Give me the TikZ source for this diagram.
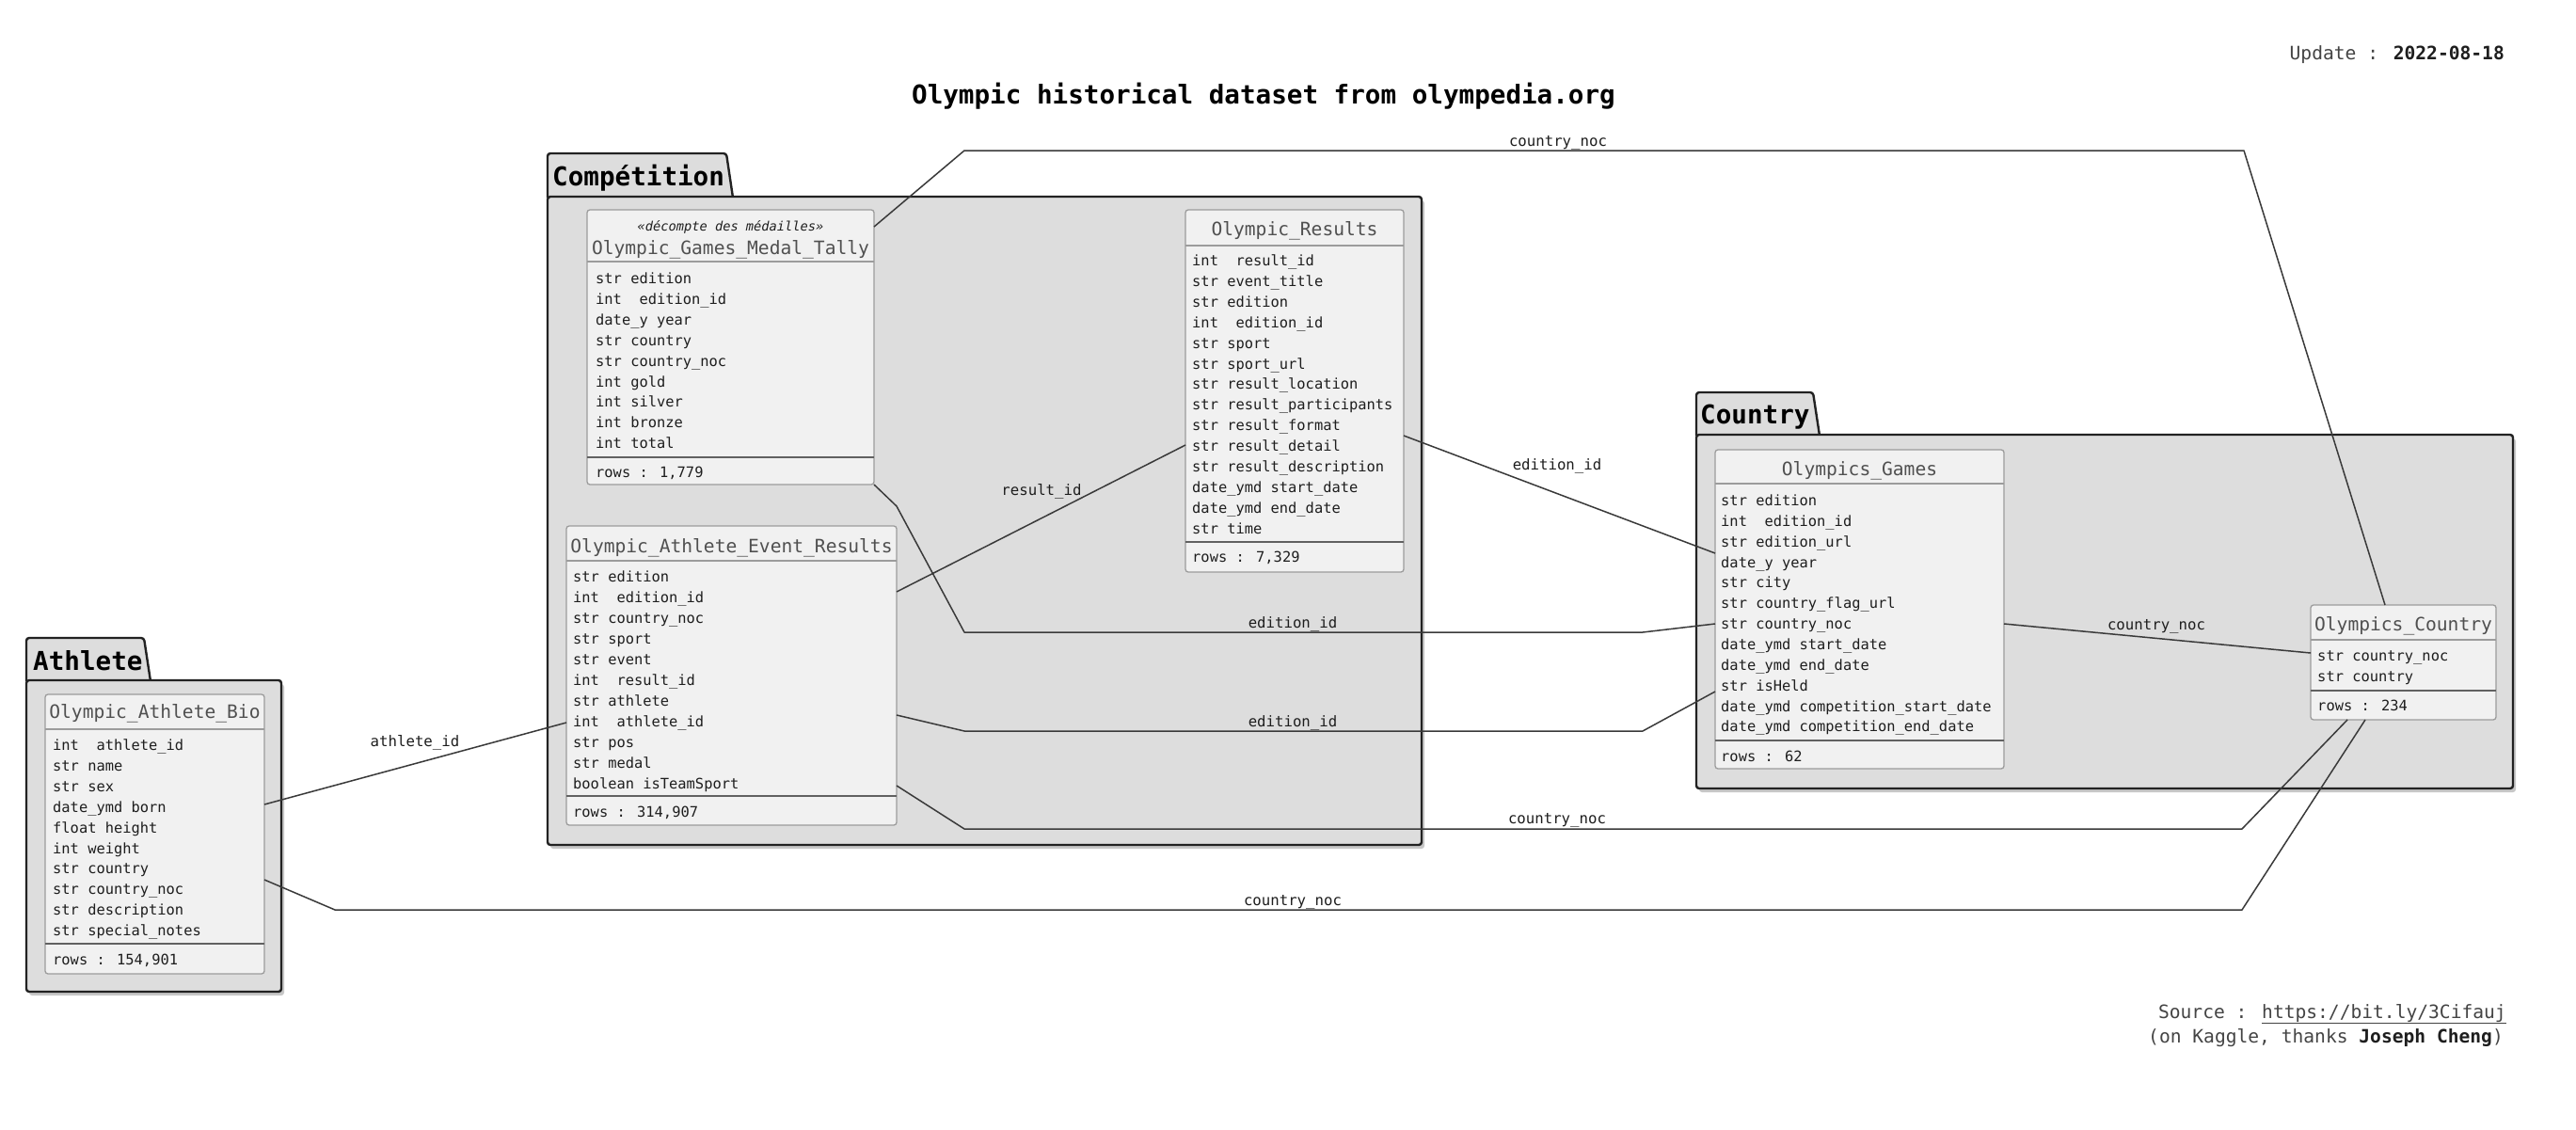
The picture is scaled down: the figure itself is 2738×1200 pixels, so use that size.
\documentclass[tikz,border=0pt]{standalone}
\usepackage{fontspec}
\setmainfont{DejaVu Sans Mono}
\definecolor{pkgfill}{HTML}{DDDDDD}
\definecolor{pkgline}{HTML}{222222}
\definecolor{boxfill}{HTML}{F1F1F1}
\definecolor{boxline}{HTML}{9C9C9C}
\definecolor{linkc}{HTML}{3A3A3A}
\definecolor{hdrc}{HTML}{505050}
\definecolor{txtc}{HTML}{1E1E1E}
\definecolor{infoc}{HTML}{444444}
\tikzset{
 pkg/.style={fill=pkgfill, draw=pkgline, line width=2.4pt, rounded corners=3pt},
 pkgshadow/.style={fill=black!22, rounded corners=3pt},
 ebox/.style={draw=boxline, fill=boxfill, line width=1.3pt, rounded corners=3pt, inner sep=0pt, outer sep=0pt, anchor=north west},
 hsep/.style={draw=boxline, line width=1.2pt},
 rsep/.style={draw=black!62, line width=2pt},
 rowt/.style={font=\fontsize{15.4}{18}\selectfont, text=txtc, inner sep=0pt, anchor=west, text height=11pt, text depth=0pt},
 hdrt/.style={font=\fontsize{19.6}{22}\selectfont, text=hdrc, inner sep=0pt, anchor=center, text height=14pt, text depth=0pt},
 stt/.style={font=\fontsize{13.7}{16}\selectfont\itshape, text=txtc, inner sep=0pt, anchor=center, text height=10pt, text depth=0pt},
 pkgt/.style={font=\fontsize{27.6}{30}\selectfont\bfseries, text=black, inner sep=0pt, anchor=west, text height=20pt, text depth=0pt},
 lnk/.style={draw=linkc, line width=1.5pt, line join=round},
 lbl/.style={font=\fontsize{15.7}{18}\selectfont, text=txtc, inner sep=0pt, anchor=center, text height=11pt, text depth=0pt},
 info/.style={font=\fontsize{19.6}{22}\selectfont, text=infoc, inner sep=0pt, text height=14pt, text depth=0pt},
}
\begin{document}
\begin{tikzpicture}[x=1pt,y=-1pt]
\useasboundingbox (0,0) rectangle (2738,1200);
\fill[white] (0,0) rectangle (2738,1200);

% ---------- texts ----------
\node[font=\fontsize{27.6}{30}\selectfont\bfseries, text=black, inner sep=0pt, text height=20pt, text depth=0pt] (title) at (1343,100) {Olympic historical dataset from olympedia.org};
\node[info, anchor=east] (upd) at (2662,56) {Update : {\color{txtc}\bfseries 2022-08-18}};
\node[info, anchor=east] (src1) at (2664,1075) {Source : \underline{https://bit.ly/3Cifauj}};
\node[info, anchor=east] (src2) at (2661,1101) {(on Kaggle, thanks {\color{txtc}\bfseries Joseph Cheng})};

% ---------- packages ----------
% Athlete
\fill[pkgshadow] (31,727) rectangle (302,1058);
\draw[pkg] (28,724) -- (28,678) -- (153,678) -- (160,724);
\draw[pkg] (28,723) rectangle (299,1054);
\node[pkgt] (pkgA) at (35,702) {Athlete};
% Competition
\fill[pkgshadow] (585,213) rectangle (1514,902);
\draw[pkg] (582,210) -- (582,163) -- (772,163) -- (779,210);
\draw[pkg] (582,209) rectangle (1511,898);
\node[pkgt] (pkgC) at (587,187) {Compétition};
% Country
\fill[pkgshadow] (1806,466) rectangle (2674,842);
\draw[pkg] (1803,463) -- (1803,417) -- (1927,417) -- (1934,463);
\draw[pkg] (1803,462) rectangle (2671,838);
\node[pkgt] (pkgK) at (1807,440) {Country};

% ---------- entity boxes ----------
\node[ebox, minimum width=233pt, minimum height=297pt] (bio) at (48,738) {};
\node[ebox, minimum width=305pt, minimum height=292pt] (mt) at (624,223) {};
\node[ebox, minimum width=232pt, minimum height=385pt] (res) at (1260,223) {};
\node[ebox, minimum width=351pt, minimum height=318pt] (aer) at (602,559) {};
\node[ebox, minimum width=307pt, minimum height=339pt] (games) at (1823,478) {};
\node[ebox, minimum width=197pt, minimum height=122pt] (ctry) at (2456,643) {};

% ---------- connectors ----------
\draw[lnk] ([yshift=-117pt]bio.north east) -- ([yshift=-209pt]aer.north west);
\node[lbl] (l1) at (441,788) {athlete\_id};
\draw[lnk] ([yshift=-197pt]bio.north east) -- (356,967) -- (2383,967) -- ([xshift=58pt]ctry.south west);
\node[lbl] (l2) at (1374,957) {country\_noc};
\draw[lnk] ([yshift=-70pt]aer.north east) -- ([yshift=-250pt]res.north west);
\node[lbl] (l3) at (1107,521) {result\_id};
\draw[lnk] (mt.south east) -- (953,538) -- (1025,672) -- (1746,672) -- ([yshift=-185pt]games.north west);
\node[lbl] (l4) at (1374,662) {edition\_id};
\draw[lnk] ([yshift=-201pt]aer.north east) -- (1025,777) -- (1746,777) -- ([yshift=-257pt]games.north west);
\node[lbl] (l5) at (1374,767) {edition\_id};
\draw[lnk] ([yshift=-276pt]aer.north east) -- (1025,881) -- (2383,881) -- ([xshift=39pt]ctry.south west);
\node[lbl] (l6) at (1655,870) {country\_noc};
\draw[lnk] ([yshift=-240pt]res.north east) -- ([yshift=-110pt]games.north west);
\node[lbl] (l7) at (1655,494) {edition\_id};
\draw[lnk] ([yshift=-185pt]games.north east) -- ([yshift=-51pt]ctry.north west);
\node[lbl] (l8) at (2292,664) {country\_noc};
\draw[lnk] ([yshift=-18pt]mt.north east) -- (1025,160) -- (2385,160) -- ([xshift=79pt]ctry.north west);
\node[lbl] (l9) at (1656,150) {country\_noc};

% ---------- entity contents ----------
% Olympic_Athlete_Bio
\draw[hsep] (48,775) -- (281,775);
\draw[rsep] (48,1003) -- (281,1003);
\node[hdrt] (bio-h) at (164.5,756) {Olympic\_Athlete\_Bio};
\foreach \t [count=\i from 0] in {int~~athlete\_id, str name, str sex, date\_ymd born, float height, int weight, str country, str country\_noc, str description, str special\_notes}
  \node[rowt] (bio-r\i) at (56,{792+\i*21.9}) {\t};
\node[rowt] (bio-n) at (56,1020) {rows : 154,901};

% Olympic_Games_Medal_Tally
\draw[hsep] (624,278) -- (929,278);
\draw[rsep] (624,486) -- (929,486);
\node[stt] (mt-s) at (776.5,240) {«décompte des médailles»};
\node[hdrt] (mt-h) at (776.5,263) {Olympic\_Games\_Medal\_Tally};
\foreach \t [count=\i from 0] in {str edition, int~~edition\_id, date\_y year, str country, str country\_noc, int gold, int silver, int bronze, int total}
  \node[rowt] (mt-r\i) at (633,{296+\i*21.9}) {\t};
\node[rowt] (mt-n) at (633,502) {rows : 1,779};

% Olympic_Results
\draw[hsep] (1260,261) -- (1492,261);
\draw[rsep] (1260,576) -- (1492,576);
\node[hdrt] (res-h) at (1376,243) {Olympic\_Results};
\foreach \t [count=\i from 0] in {int~~result\_id, str event\_title, str edition, int~~edition\_id, str sport, str sport\_url, str result\_location, str result\_participants, str result\_format, str result\_detail, str result\_description, date\_ymd start\_date, date\_ymd end\_date, str time}
  \node[rowt] (res-r\i) at (1267,{277+\i*21.9}) {\t};
\node[rowt] (res-n) at (1267,592) {rows : 7,329};

% Olympic_Athlete_Event_Results
\draw[hsep] (602,596) -- (953,596);
\draw[rsep] (602,846) -- (953,846);
\node[hdrt] (aer-h) at (777.5,580) {Olympic\_Athlete\_Event\_Results};
\foreach \t [count=\i from 0] in {str edition, int~~edition\_id, str country\_noc, str sport, str event, int~~result\_id, str athlete, int~~athlete\_id, str pos, str medal, boolean isTeamSport}
  \node[rowt] (aer-r\i) at (609,{613+\i*22}) {\t};
\node[rowt] (aer-n) at (609,863) {rows : 314,907};

% Olympics_Games
\draw[hsep] (1823,514) -- (2130,514);
\draw[rsep] (1823,787) -- (2130,787);
\node[hdrt] (games-h) at (1976.5,498) {Olympics\_Games};
\foreach \t [count=\i from 0] in {str edition, int~~edition\_id, str edition\_url, date\_y year, str city, str country\_flag\_url, str country\_noc, date\_ymd start\_date, date\_ymd end\_date, str isHeld, date\_ymd competition\_start\_date, date\_ymd competition\_end\_date}
  \node[rowt] (games-r\i) at (1829,{532+\i*21.85}) {\t};
\node[rowt] (games-n) at (1829,804) {rows : 62};

% Olympics_Country
\draw[hsep] (2456,680) -- (2653,680);
\draw[rsep] (2456,734) -- (2653,734);
\node[hdrt] (ctry-h) at (2554.5,663) {Olympics\_Country};
\node[rowt] (ctry-r0) at (2463,697) {str country\_noc};
\node[rowt] (ctry-r1) at (2463,719) {str country};
\node[rowt] (ctry-n) at (2463,750) {rows : 234};
\end{tikzpicture}
\end{document}
